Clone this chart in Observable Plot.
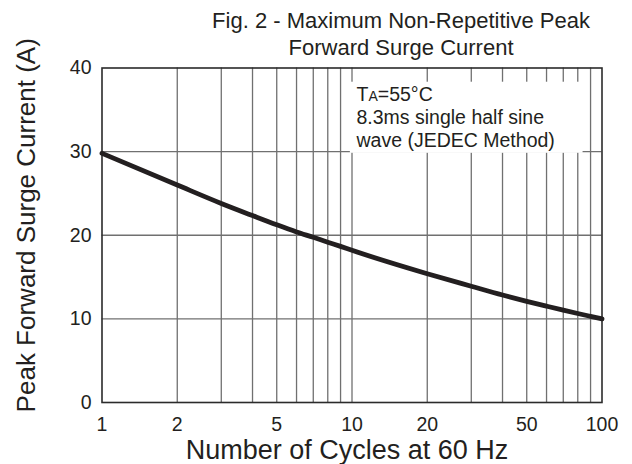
<!DOCTYPE html>
<html>
<head>
<meta charset="utf-8">
<script src="https://cdn.jsdelivr.net/npm/d3@7"></script>
<script src="https://cdn.jsdelivr.net/npm/@observablehq/plot@0.6"></script>
<style>
  html, body { margin: 0; padding: 0; background: #fff; }
  #chart svg { display: block; }
</style>
</head>
<body>
<div id="chart"></div>
<script>
// Data
const cycles  = [1, 2, 3, 4, 5, 6, 7, 8, 9, 10, 20, 30, 40, 50, 60, 70, 80, 90, 100];
const current = [29.8, 26.0, 23.8, 22.35, 21.25, 20.4, 19.75, 19.17, 18.67, 18.2, 15.4, 13.9, 12.85, 12.1, 11.52, 11.04, 10.64, 10.3, 10.0];
const xTicks = [1, 2, 5, 10, 20, 50, 100];
const yTicks = [0, 10, 20, 30, 40];
const xGrid = [2, 3, 4, 5, 6, 7, 8, 9, 10, 20, 30, 40, 50, 60, 70, 80, 90];
const yGrid = [10, 20, 30];
const titleLines = ["Fig. 2 - Maximum Non-Repetitive Peak", "Forward Surge Current"];
const noteLines = ["TA=55°C", "8.3ms single half sine", "wave (JEDEC Method)"];
const noteAnchor = [{x: 10, y: 40}];
const noteBox = [{x1: 9.85, x2: 84, y1: 29.8, y2: 38.3}];
const xLabel = "Number of Cycles at 60 Hz";
const yLabel = "Peak Forward Surge Current (A)";

const data = cycles.map((c, i) => ({c, v: current[i]}));
const FONT = "'Liberation Sans', Arial, Helvetica, sans-serif";
const INK = "#231f20";

const noteMarks = noteLines.map((line, i) =>
  Plot.text(noteAnchor, {x: "x", y: "y", text: () => line, dx: 4.5, dy: 27 + i * 23,
    textAnchor: "start", lineAnchor: "middle", fontSize: 19.5, fill: INK})
);

const chart = Plot.plot({
  width: 632,
  height: 464,
  marginLeft: 101.5,
  marginRight: 30.5,
  marginTop: 67.5,
  marginBottom: 62,
  style: {fontFamily: FONT, color: INK, background: "#fff"},
  x: {type: "log", domain: [1, 100]},
  y: {domain: [0, 40]},
  marks: [
    Plot.ruleX(xGrid, {y1: 0, y2: 40, stroke: "#707070", strokeWidth: 1.3}),
    Plot.ruleY(yGrid, {x1: 1, x2: 100, stroke: "#707070", strokeWidth: 1.3}),
    Plot.rect(noteBox, {x1: "x1", x2: "x2", y1: "y1", y2: "y2", fill: "#fff"}),
    Plot.frame({stroke: "#2b2b2b", strokeWidth: 1.6}),
    Plot.line(data, {x: "c", y: "v", stroke: INK, strokeWidth: 4.8, curve: "monotone-x"}),
    Plot.axisX({ticks: xTicks, tickSize: 0, tickPadding: 15, fontSize: 19.5, tickFormat: d => String(d), label: null}),
    Plot.axisY({ticks: yTicks, tickSize: 0, tickPadding: 10.5, fontSize: 19.5, label: null}),
    Plot.text([xLabel], {frameAnchor: "bottom", dx: -5, dy: 48, textAnchor: "middle", lineAnchor: "middle", fontSize: 27, fill: INK}),
    Plot.text([yLabel], {frameAnchor: "left", dx: -75, dy: -10, rotate: -90, textAnchor: "middle", lineAnchor: "middle", fontSize: 26, fill: INK}),
    ...noteMarks,
    Plot.text([titleLines[0]], {frameAnchor: "top", dx: 49, dy: -47.5, fontSize: 22, lineAnchor: "middle", fill: INK}),
    Plot.text([titleLines[1]], {frameAnchor: "top", dx: 49, dy: -20.5, fontSize: 22, lineAnchor: "middle", fill: INK})
  ]
});

document.getElementById("chart").appendChild(chart);

// Small-cap subscript "A" in "TA=55°C"
d3.select(chart).selectAll("text").each(function() {
  if (this.textContent === noteLines[0]) {
    const t = d3.select(this);
    t.text(null);
    t.append("tspan").text("T");
    t.append("tspan").attr("font-size", "0.72em").text("A");
    t.append("tspan").text("=55°C");
  }
});
</script>
</body>
</html>
